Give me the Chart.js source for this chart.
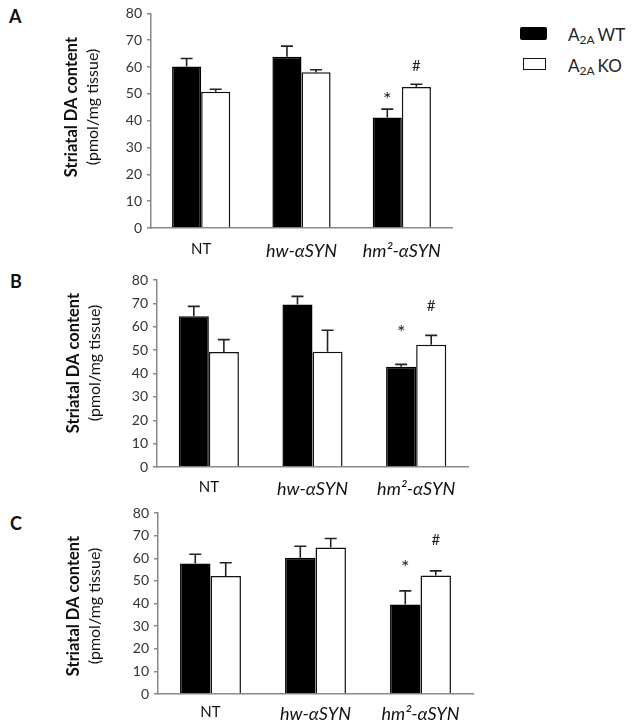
<!DOCTYPE html>
<html>
<head>
<meta charset="utf-8">
<script src="https://cdn.jsdelivr.net/npm/chart.js@4.4.0/dist/chart.umd.min.js"></script>
<style>
body{margin:0;background:#fff;width:632px;height:724px;position:relative;overflow:hidden;font-family:Lato,sans-serif}
.panel{position:absolute;left:0}
.letter{position:absolute;font:bold 18px Lato,sans-serif;color:#111}
.lbox{position:absolute}
.ltxt{position:absolute;font:17px Lato,sans-serif;color:#222;white-space:nowrap}
.ltxt sub{font-size:12px;vertical-align:-3px;margin-right:3px}
</style>
</head>
<body>
<div class="letter" style="left:9px;top:5px">A</div>
<div class="letter" style="left:10px;top:270px">B</div>
<div class="letter" style="left:10px;top:512px">C</div>

<div class="lbox" style="left:520px;top:27px;width:27px;height:13px;background:#000;border-radius:2px"></div>
<div class="ltxt" style="left:568px;top:24px">A<sub>2A</sub>WT</div>
<div class="lbox" style="left:523px;top:58px;width:21px;height:10px;background:#fff;border:1.5px solid #111"></div>
<div class="ltxt" style="left:568px;top:55px">A<sub>2A</sub>KO</div>

<div class="panel" style="top:0;width:470px;height:262px"><canvas id="chartA"></canvas></div>
<div class="panel" style="top:258px;width:480px;height:250px"><canvas id="chartB"></canvas></div>
<div class="panel" style="top:495px;width:485px;height:229px"><canvas id="chartC"></canvas></div>

<script>
var categories = ['NT', 'hw-αSYN', 'hm²-αSYN'];

// panel A
var wtA = [60.2, 63.8, 41.2];
var wtErrA = [3.0, 4.0, 3.1];
var koA = [50.8, 58.1, 52.6];
var koErrA = [0.9, 0.9, 1.0];
var sigA = [49, 60.5];   // heights of * and # over hm2

// panel B
var wtB = [64.5, 69.5, 42.9];
var wtErrB = [4.2, 3.5, 1.0];
var koB = [49.2, 49.3, 52.3];
var koErrB = [5.3, 9.2, 4.0];
var sigB = [58.8, 69];

// panel C
var wtC = [57.7, 60.2, 39.6];
var wtErrC = [4.1, 5.1, 6.0];
var koC = [52.2, 64.8, 52.4];
var koErrC = [5.8, 3.9, 2.0];
var sigC = [57, 68];

Chart.defaults.font.family = 'Lato, sans-serif';
Chart.defaults.animation = false;

// error bars, * / # marks and the two-line y title
var extras = {
  id: 'extras',
  afterDatasetsDraw: function(chart, args, opts){
    var ctx = chart.ctx, y = chart.scales.y;
    ctx.save();
    ctx.strokeStyle = '#222';
    ctx.lineWidth = 1.6;
    chart.data.datasets.forEach(function(ds, di){
      var meta = chart.getDatasetMeta(di);
      meta.data.forEach(function(bar, i){
        var top = y.getPixelForValue(ds.data[i] + ds.err[i]);
        ctx.beginPath();
        ctx.moveTo(bar.x, bar.y);
        ctx.lineTo(bar.x, top);
        ctx.moveTo(bar.x - 6, top);
        ctx.lineTo(bar.x + 6, top);
        ctx.stroke();
      });
    });

    var last = categories.length - 1;
    ctx.fillStyle = '#222';
    ctx.textAlign = 'center';
    ctx.textBaseline = 'middle';
    var b0 = chart.getDatasetMeta(0).data[last];
    var b1 = chart.getDatasetMeta(1).data[last];
    ctx.font = '20px Lato, sans-serif';
    ctx.fillText('*', b0.x, y.getPixelForValue(opts.sig[0]) + 3);
    ctx.font = '15px Lato, sans-serif';
    ctx.fillText('#', b1.x, y.getPixelForValue(opts.sig[1]));

    ctx.translate(opts.titleX, opts.titleY);
    ctx.rotate(-Math.PI / 2);
    ctx.fillStyle = '#111';
    ctx.font = 'bold 16.5px Lato, sans-serif';
    ctx.fillText('Striatal DA content', 0, 0);
    ctx.font = '16px Lato, sans-serif';
    ctx.fillText('(pmol/mg tissue)', 0, opts.titleGap);
    ctx.restore();
  }
};

function drawPanel(id, wt, wtErr, ko, koErr, sig, geo){
  new Chart(document.getElementById(id), {
    type: 'bar',
    data: {
      labels: categories,
      datasets: [{
        label: 'A2A WT',
        data: wt,
        err: wtErr,
        backgroundColor: '#000',
        borderColor: '#000',
        borderWidth: 1.5
      }, {
        label: 'A2A KO',
        data: ko,
        err: koErr,
        backgroundColor: '#fff',
        borderColor: '#111',
        borderWidth: 1.5
      }]
    },
    options: {
      responsive: true,
      maintainAspectRatio: false,
      layout: { padding: { top: geo.padTop, right: geo.padRight, left: 0, bottom: 0 } },
      datasets: { bar: { categoryPercentage: 0.58, barPercentage: 1.0 } },
      plugins: {
        legend: { display: false },
        tooltip: { enabled: false },
        extras: { sig: sig, titleX: geo.titleX, titleY: geo.titleY, titleGap: 21 }
      },
      scales: {
        x: {
          grid: { display: false },
          border: { color: '#888', width: 1.5 },
          ticks: {
            color: '#111',
            padding: geo.xPad,
            font: function(c){
              return c.index === 0 ? { size: 15, style: 'normal' } : { size: 18, style: 'italic' };
            }
          },
          afterFit: function(s){ s.height = geo.xHeight; }
        },
        y: {
          min: 0, max: 80,
          ticks: { stepSize: 10, color: '#333', font: { size: 14 }, padding: 5 },
          grid: { drawOnChartArea: false, drawTicks: true, tickLength: 4, color: '#888', lineWidth: 1.5 },
          border: { color: '#888', width: 1.5 },
          afterFit: function(s){ s.width = geo.axisX; }
        }
      }
    },
    plugins: [extras]
  });
}

drawPanel('chartA', wtA, wtErrA, koA, koErrA, sigA,
  { padTop: 12, padRight: 18, axisX: 151, xHeight: 34, xPad: 4, titleX: 72, titleY: 107 });
drawPanel('chartB', wtB, wtErrB, koB, koErrB, sigB,
  { padTop: 22, padRight: 12, axisX: 157, xHeight: 41, xPad: 3, titleX: 74, titleY: 105 });
drawPanel('chartC', wtC, wtErrC, koC, koErrC, sigC,
  { padTop: 18, padRight: 12, axisX: 158, xHeight: 30, xPad: 1, titleX: 74, titleY: 111 });
</script>
</body>
</html>
